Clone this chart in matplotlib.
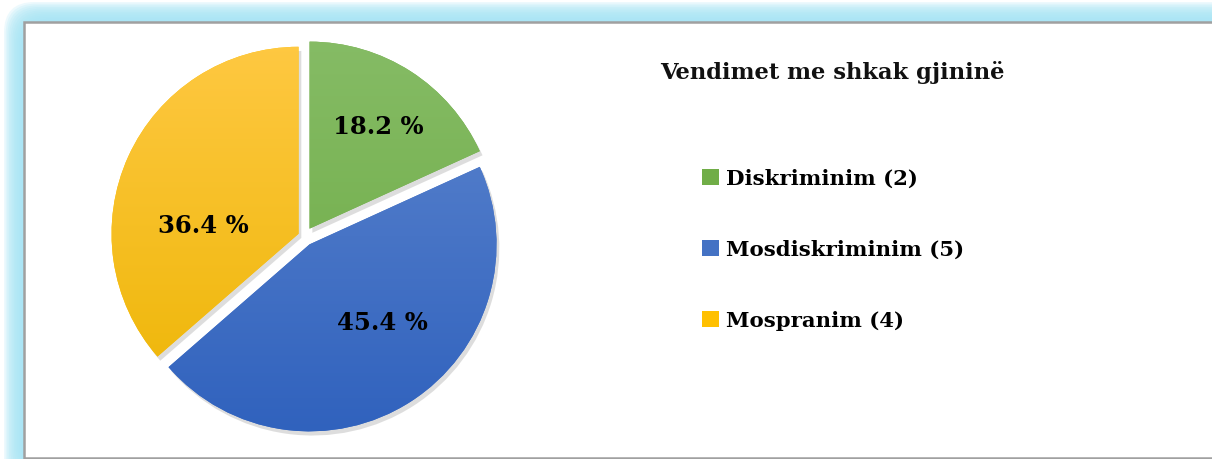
import numpy as np
import matplotlib.pyplot as plt
from matplotlib.colors import LinearSegmentedColormap
from matplotlib.patches import FancyBboxPatch, Rectangle, Patch
import matplotlib.patheffects as pe

# data
categories = ["Diskriminim", "Mosdiskriminim", "Mospranim"]
counts = [2, 5, 4]
shares = [18.2, 45.4, 36.4]
title = "Vendimet me shkak gjininë"

top_colors = ["#86bc66", "#5f87cf", "#ffc944"]
bottom_colors = ["#6aa940", "#2f61bd", "#ecb400"]
solid_colors = ["#70ad47", "#4472c4", "#ffc000"]

W, H = 1212, 460
fig = plt.figure(figsize=(W / 100, H / 100), dpi=100)
fig.patch.set_facecolor("white")

# light blue glow around the frame (stacked translucent layers)
n_glow = 12
for i in range(n_glow):
    pad = 20 - i * 20 / n_glow
    glow = FancyBboxPatch(((24 - pad) / W, (1 - pad - 10) / H), (W + 40) / W, (459 - 23 + 10 + 2 * pad) / H,
                          boxstyle="round,pad=0,rounding_size=0.025", transform=fig.transFigure,
                          facecolor="#a6e5f5", edgecolor="none", alpha=0.2, zorder=0,
                          mutation_aspect=W / H)
    fig.patches.append(glow)
frame = Rectangle((24 / W, 1 / H), (W - 20) / W, (459 - 23) / H, transform=fig.transFigure,
                  facecolor="white", edgecolor="#a0a0a0", linewidth=1.8, zorder=1)
fig.patches.append(frame)

# pie axes
cx, cy, R = 304.5, 460 - 237.5, 187
lim = 1.1
ax = fig.add_axes([(cx - lim * R) / W, (cy - lim * R) / H, 2 * lim * R / W, 2 * lim * R / H])
ax.set_zorder(2)
wedges, _ = ax.pie(shares, colors=solid_colors, startangle=90, counterclock=False,
                   explode=[0.05, 0.05, 0.035], radius=1.0)

grad = np.linspace(0, 1, 256).reshape(-1, 1)
for w, c1, c2 in zip(wedges, top_colors, bottom_colors):
    w.set_path_effects([pe.SimplePatchShadow(offset=(2, -3), shadow_rgbFace="#888888", alpha=0.28),
                        pe.Normal()])
    cmap = LinearSegmentedColormap.from_list("g", [c1, c2])
    im = ax.imshow(grad, cmap=cmap, extent=[-1.1, 1.1, -1.1, 1.1], aspect="auto",
                   origin="upper", zorder=3)
    im.set_clip_path(w)

ax.set_xlim(-lim, lim)
ax.set_ylim(-lim, lim)
ax.set_aspect("equal")
ax.axis("off")

serif = ["DejaVu Serif"]

# percentage labels (angle, distance from wedge centre)
label_pos = [(56, 0.66), (-47, 0.57), (175, 0.51)]
for w, s, (ang, d) in zip(wedges, shares, label_pos):
    ox, oy = w.center
    t = np.deg2rad(ang)
    ax.text(ox + d * np.cos(t), oy + d * np.sin(t), f"{s} %", ha="center", va="center",
            fontsize=17.5, fontweight="bold", family=serif, color="black", zorder=5)

fig.text(660 / W, 1 - 72 / H, title, ha="left", va="center", fontsize=16.3,
         fontweight="bold", family=serif, color="#111111", zorder=5)

handles = [Patch(facecolor=c, edgecolor="none") for c in solid_colors]
labels = [f"{c} ({n})" for c, n in zip(categories, counts)]
leg = fig.legend(handles, labels, loc="upper left", bbox_to_anchor=(683 / W, 1 - 150 / H),
                 frameon=False, handlelength=0.78, handleheight=0.78, handletextpad=0.35,
                 labelspacing=2.4, prop={"family": serif, "weight": "bold", "size": 15.3})
leg.set_zorder(5)

fig.savefig("out.png", dpi=100)
